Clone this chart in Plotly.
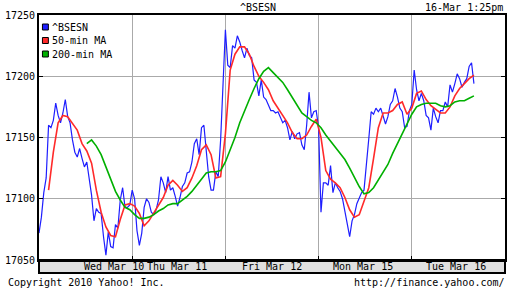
import plotly.graph_objects as go
import numpy as np

# ---- data ----
days = ["Wed Mar 10", "Thu Mar 11", "Fri Mar 12", "Mon Mar 15", "Tue Mar 16"]
day_label_pos = [0.80, 1.48, 2.50, 3.48, 4.47]   # label position in trading days
step_min = 10            # minutes between samples
session_min = 390        # minutes per trading session

bsesn = [17072, 17085, 17105, 17117, 17160, 17158, 17164, 17178, 17168, 17162,
         17170, 17181, 17167, 17162, 17148, 17138, 17134, 17141, 17133, 17126,
         17130, 17118, 17103, 17082, 17092, 17089, 17088, 17069, 17054, 17073,
         17061, 17060, 17079, 17076, 17099, 17109, 17093, 17093, 17095, 17107,
         17100, 17074, 17062, 17072, 17093, 17100, 17097, 17089, 17087, 17091,
         17099, 17118, 17113, 17105, 17118, 17107, 17109, 17102, 17094, 17101,
         17110, 17113, 17121, 17122, 17130, 17145, 17149, 17136, 17158, 17160,
         17141, 17118, 17107, 17107, 17122, 17118, 17148, 17201, 17238, 17209,
         17207, 17225, 17223, 17233, 17228, 17221, 17215, 17223, 17217, 17215,
         17197, 17195, 17184, 17197, 17183, 17181, 17176, 17172, 17172, 17170,
         17171, 17167, 17162, 17164, 17158, 17148, 17155, 17149, 17153, 17154,
         17144, 17140, 17160, 17187, 17166, 17171, 17172, 17158, 17089, 17113,
         17113, 17111, 17127, 17105, 17113, 17109, 17106, 17100, 17090, 17082,
         17069, 17082, 17087, 17096, 17100, 17105, 17107, 17131, 17149, 17171,
         17169, 17174, 17171, 17174, 17167, 17161, 17167, 17177, 17180, 17190,
         17183, 17174, 17171, 17158, 17159, 17172, 17177, 17205, 17189, 17180,
         17186, 17180, 17168, 17166, 17156, 17174, 17167, 17162, 17172, 17172,
         17179, 17175, 17193, 17187, 17194, 17202, 17198, 17191, 17195, 17198,
         17208, 17211, 17194]

ma50_start = 4   # sample index where the 50-min MA begins (every 2nd sample)
ma50 = [17107, 17138, 17162, 17168, 17167, 17161, 17156, 17145, 17139, 17129,
        17107, 17089, 17077, 17070, 17069, 17083, 17095, 17096, 17094, 17088,
        17078, 17082, 17088, 17095, 17101, 17111, 17115, 17111, 17106, 17109,
        17117, 17127, 17140, 17144, 17136, 17117, 17118, 17153, 17205, 17218,
        17224, 17224, 17218, 17208, 17200, 17195, 17189, 17180, 17174, 17169,
        17162, 17154, 17149, 17149, 17152, 17159, 17165, 17150, 17123, 17116,
        17113, 17109, 17101, 17091, 17085, 17087, 17098, 17109, 17133, 17158,
        17170, 17170, 17172, 17177, 17179, 17169, 17174, 17186, 17188, 17181,
        17176, 17173, 17170, 17170, 17175, 17184, 17190, 17194, 17198, 17201]

ma200_start = 20
ma200 = [17145, 17148, 17143, 17136, 17126, 17116, 17106, 17099, 17093, 17091,
         17087, 17084, 17084, 17085, 17087, 17090, 17092, 17095, 17096, 17096,
         17099, 17102, 17106, 17111, 17116, 17121, 17122, 17122, 17123, 17130,
         17140, 17150, 17162, 17172, 17181, 17190, 17198, 17204, 17207, 17203,
         17199, 17195, 17189, 17183, 17176, 17170, 17167, 17164, 17162, 17158,
         17152, 17147, 17142, 17137, 17132, 17125, 17117, 17110, 17104, 17105,
         17109, 17115, 17121, 17128, 17137, 17145, 17152, 17161, 17169, 17175,
         17177, 17178, 17178, 17178, 17176, 17175, 17176, 17179, 17180, 17180,
         17182, 17184]

y_ticks = [17050, 17100, 17150, 17200, 17250]
title = "^BSESN"
stamp = "16-Mar 1:25pm"
names = ["^BSESN", "50-min MA", "200-min MA"]
colors = ["#1e1eff", "#ff2a2a", "#00b000"]

# ---- derived x positions (trading days) ----
dx = step_min / session_min
x_b = np.arange(len(bsesn)) * dx
x_50 = (ma50_start + 2 * np.arange(len(ma50))) * dx
x_200 = (ma200_start + 2 * np.arange(len(ma200))) * dx

FONT = "DejaVu Sans Mono"
fig = go.Figure()
fig.add_trace(go.Scatter(x=x_b, y=bsesn, mode="lines", line=dict(color=colors[0], width=1.2), showlegend=False))
fig.add_trace(go.Scatter(x=x_50, y=ma50, mode="lines", line=dict(color=colors[1], width=1.6), showlegend=False))
fig.add_trace(go.Scatter(x=x_200, y=ma200, mode="lines", line=dict(color=colors[2], width=1.6), showlegend=False))

# layout geometry in pixels
L, T, W, H = 34, 15, 473, 245
def px(x): return (x - L) / W
def py(y): return (T + H - y) / H

ann = []
ann.append(dict(text=title, x=px(256), y=py(7), xref="paper", yref="paper", showarrow=False,
                xanchor="center", yanchor="middle", font=dict(family=FONT, size=10, color="black")))
ann.append(dict(text=stamp, x=px(507), y=py(7), xref="paper", yref="paper", showarrow=False,
                xanchor="right", yanchor="middle", font=dict(family=FONT, size=10, color="black")))
ann.append(dict(text="Copyright 2010 Yahoo! Inc.", x=px(0), y=py(282), xref="paper", yref="paper", showarrow=False,
                xanchor="left", yanchor="middle", font=dict(family=FONT, size=10, color="black")))
ann.append(dict(text="http://finance.yahoo.com/", x=px(509), y=py(282), xref="paper", yref="paper", showarrow=False,
                xanchor="right", yanchor="middle", font=dict(family=FONT, size=10, color="black")))
for d, xp in zip(days, day_label_pos):
    ann.append(dict(text=d, x=xp, y=py(266.5), xref="x", yref="paper", showarrow=False,
                    xanchor="center", yanchor="middle", font=dict(family=FONT, size=10, color="black")))

shapes = [dict(type="rect", xref="paper", yref="paper", x0=0, x1=1, y0=py(273), y1=0,
               fillcolor="#e0e0e0", line=dict(color="black", width=2), layer="below")]
rows = [27, 40.5, 54]
for n, c, r in zip(names, colors, rows):
    shapes.append(dict(type="rect", xref="paper", yref="paper", x0=px(37.5), x1=px(43.5),
                       y0=py(r + 3), y1=py(r - 3), fillcolor=c, line=dict(color="black", width=1)))
    ann.append(dict(text=n, x=px(45.5), y=py(r), xref="paper", yref="paper", showarrow=False,
                    xanchor="left", yanchor="middle", font=dict(family=FONT, size=10, color="black")))

fig.update_layout(
    width=512, height=288, margin=dict(l=L, r=512 - L - W, t=T, b=288 - T - H),
    paper_bgcolor="white", plot_bgcolor="white",
    annotations=ann, shapes=shapes, showlegend=False,
    font=dict(family=FONT, size=10, color="black"),
)
fig.update_xaxes(range=[0, 5], tickvals=[0, 1, 2, 3, 4, 5], showticklabels=False,
                 ticks="inside", ticklen=4, tickcolor="black", tickwidth=1,
                 showgrid=True, gridcolor="#aaaaaa", gridwidth=1,
                 showline=True, linecolor="black", linewidth=2, mirror=True, zeroline=False)
fig.update_yaxes(range=[17050, 17250], tickvals=y_ticks, ticktext=[str(v) for v in y_ticks],
                 ticks="inside", ticklen=4, tickcolor="black", tickwidth=1,
                 showgrid=True, gridcolor="#aaaaaa", gridwidth=1,
                 showline=True, linecolor="black", linewidth=2, mirror="allticks", zeroline=False,
                 tickfont=dict(family=FONT, size=10, color="black"))

fig.write_html("out.html")
